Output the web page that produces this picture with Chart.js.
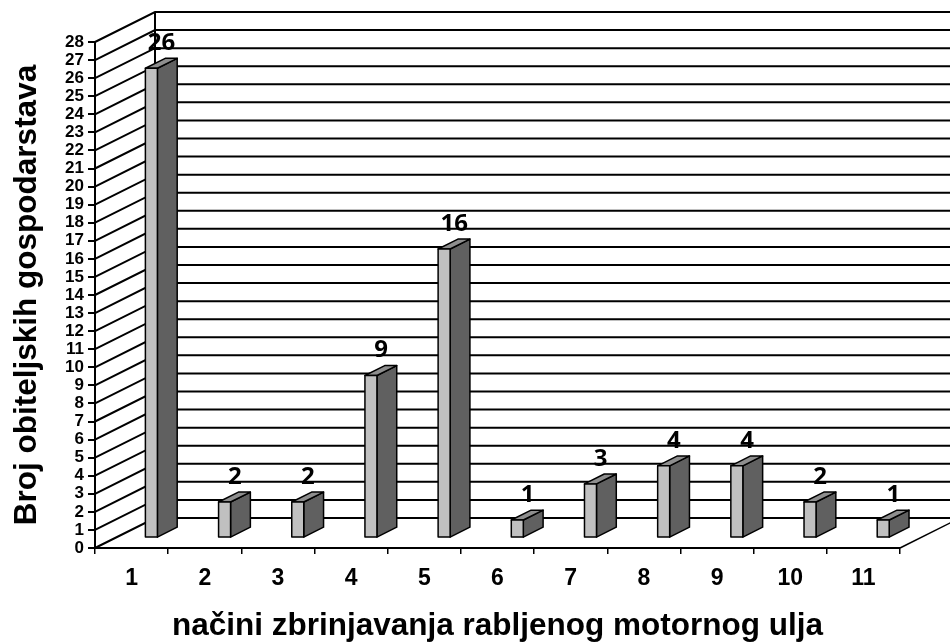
<!DOCTYPE html>
<html>
<head>
<meta charset="utf-8">
<script src="https://cdn.jsdelivr.net/npm/chart.js@4.4.1/dist/chart.umd.min.js"></script>
<style>
  html, body { margin: 0; padding: 0; background: #fff; }
  canvas { display: block; }
</style>
</head>
<body>
<canvas id="c" width="950" height="643"></canvas>
<script>
const CATEGORIES = ['1', '2', '3', '4', '5', '6', '7', '8', '9', '10', '11'];
const VALUES = [26, 2, 2, 9, 16, 1, 3, 4, 4, 2, 1];
const Y_MIN = 0;
const Y_MAX = 28;
const Y_STEP = 1;
const X_TITLE = 'načini zbrinjavanja rabljenog motornog ulja';
const Y_TITLE = 'Broj obiteljskih gospodarstava';

const FONT = "'Liberation Sans', Arial, sans-serif";
const LABEL_FONT = "'Noto Sans', 'Liberation Sans', sans-serif";
const DX = 60, DY = 30;          // depth of the 3D box
const FRONT = 0.33, DEPTH = 0.33; // bar position / depth fraction

const walls = {
  id: 'walls',
  beforeDatasetsDraw(chart) {
    const { ctx, chartArea: { left, right, top, bottom }, scales: { y } } = chart;
    ctx.save();
    ctx.strokeStyle = '#000';
    ctx.lineWidth = 2;
    ctx.lineCap = 'butt';
    for (let v = Y_MIN; v <= Y_MAX; v += Y_STEP) {
      const py = y.getPixelForValue(v);
      ctx.beginPath();
      ctx.moveTo(left, py);
      ctx.lineTo(left + DX, py - DY);
      ctx.lineTo(chart.width, py - DY);
      ctx.stroke();
    }
    ctx.beginPath();
    ctx.moveTo(left + DX, top - DY);
    ctx.lineTo(left + DX, bottom - DY);
    ctx.stroke();
    ctx.lineWidth = 1.5;
    ctx.beginPath();
    ctx.moveTo(right, bottom);
    ctx.lineTo(right + DX, bottom - DY);
    ctx.stroke();
    ctx.restore();
  },
  afterDatasetsDraw(chart) {
    const { ctx } = chart;
    const meta = chart.getDatasetMeta(0);
    ctx.save();
    ctx.lineWidth = 1.5;
    ctx.strokeStyle = '#000';
    ctx.lineJoin = 'round';
    const ox = DX * FRONT, oy = DY * FRONT;
    const dx = DX * DEPTH, dy = DY * DEPTH;
    meta.data.forEach((el, i) => {
      const p = el.getProps(['x', 'y', 'base', 'width'], true);
      const l = p.x - p.width / 2 + ox;
      const r = p.x + p.width / 2 + ox;
      const t = p.y - oy;
      const b = p.base - oy;
      // side face
      ctx.fillStyle = '#606060';
      ctx.beginPath();
      ctx.moveTo(r, t); ctx.lineTo(r + dx, t - dy); ctx.lineTo(r + dx, b - dy); ctx.lineTo(r, b); ctx.closePath();
      ctx.fill(); ctx.stroke();
      // top face
      ctx.fillStyle = '#8e8e8e';
      ctx.beginPath();
      ctx.moveTo(l, t); ctx.lineTo(l + dx, t - dy); ctx.lineTo(r + dx, t - dy); ctx.lineTo(r, t); ctx.closePath();
      ctx.fill(); ctx.stroke();
      // front face
      ctx.fillStyle = '#c0c0c0';
      ctx.beginPath();
      ctx.rect(l, t, r - l, b - t);
      ctx.fill(); ctx.stroke();
      // value label
      ctx.fillStyle = '#000';
      ctx.font = 'bold 24px ' + LABEL_FONT;
      ctx.textAlign = 'center';
      ctx.textBaseline = 'middle';
      ctx.fillText(String(VALUES[i]), p.x + 30, p.y - 35);
    });
    ctx.restore();
  }
};

new Chart(document.getElementById('c'), {
  type: 'bar',
  data: {
    labels: CATEGORIES,
    datasets: [{
      data: VALUES,
      backgroundColor: 'rgba(0,0,0,0)',
      borderWidth: 0,
      barPercentage: 0.164,
      categoryPercentage: 1
    }]
  },
  options: {
    responsive: false,
    animation: false,
    layout: { padding: { top: 42, right: 50, left: 0, bottom: 0 } },
    plugins: { legend: { display: false }, tooltip: { enabled: false } },
    scales: {
      x: {
        grid: { offset: true, drawOnChartArea: false, drawTicks: true, tickLength: 6, color: '#000', lineWidth: 1.5 },
        border: { display: true, color: '#000', width: 2 },
        ticks: { color: '#000', font: { family: FONT, size: 23, weight: 'bold' }, padding: 11, maxRotation: 0, autoSkip: false },
        title: { display: true, text: X_TITLE, color: '#000', font: { family: FONT, size: 31.5, weight: 'bold', lineHeight: 1 }, padding: { top: 0, bottom: 1 } },
        afterFit(s) { s.height = 95; }
      },
      y: {
        min: Y_MIN, max: Y_MAX,
        grid: { drawOnChartArea: false, drawTicks: true, tickLength: 7, color: '#000', lineWidth: 2 },
        border: { display: true, color: '#000', width: 2 },
        ticks: { stepSize: Y_STEP, autoSkip: false, color: '#000', font: { family: FONT, size: 17, weight: 'bold' }, padding: 4 },
        title: { display: true, text: Y_TITLE, color: '#000', font: { family: FONT, size: 31.5, weight: 'bold', lineHeight: 1.2 }, padding: { top: 8, bottom: 0 } },
        afterFit(s) { s.width = 95; }
      }
    }
  },
  plugins: [walls]
});
</script>
</body>
</html>
